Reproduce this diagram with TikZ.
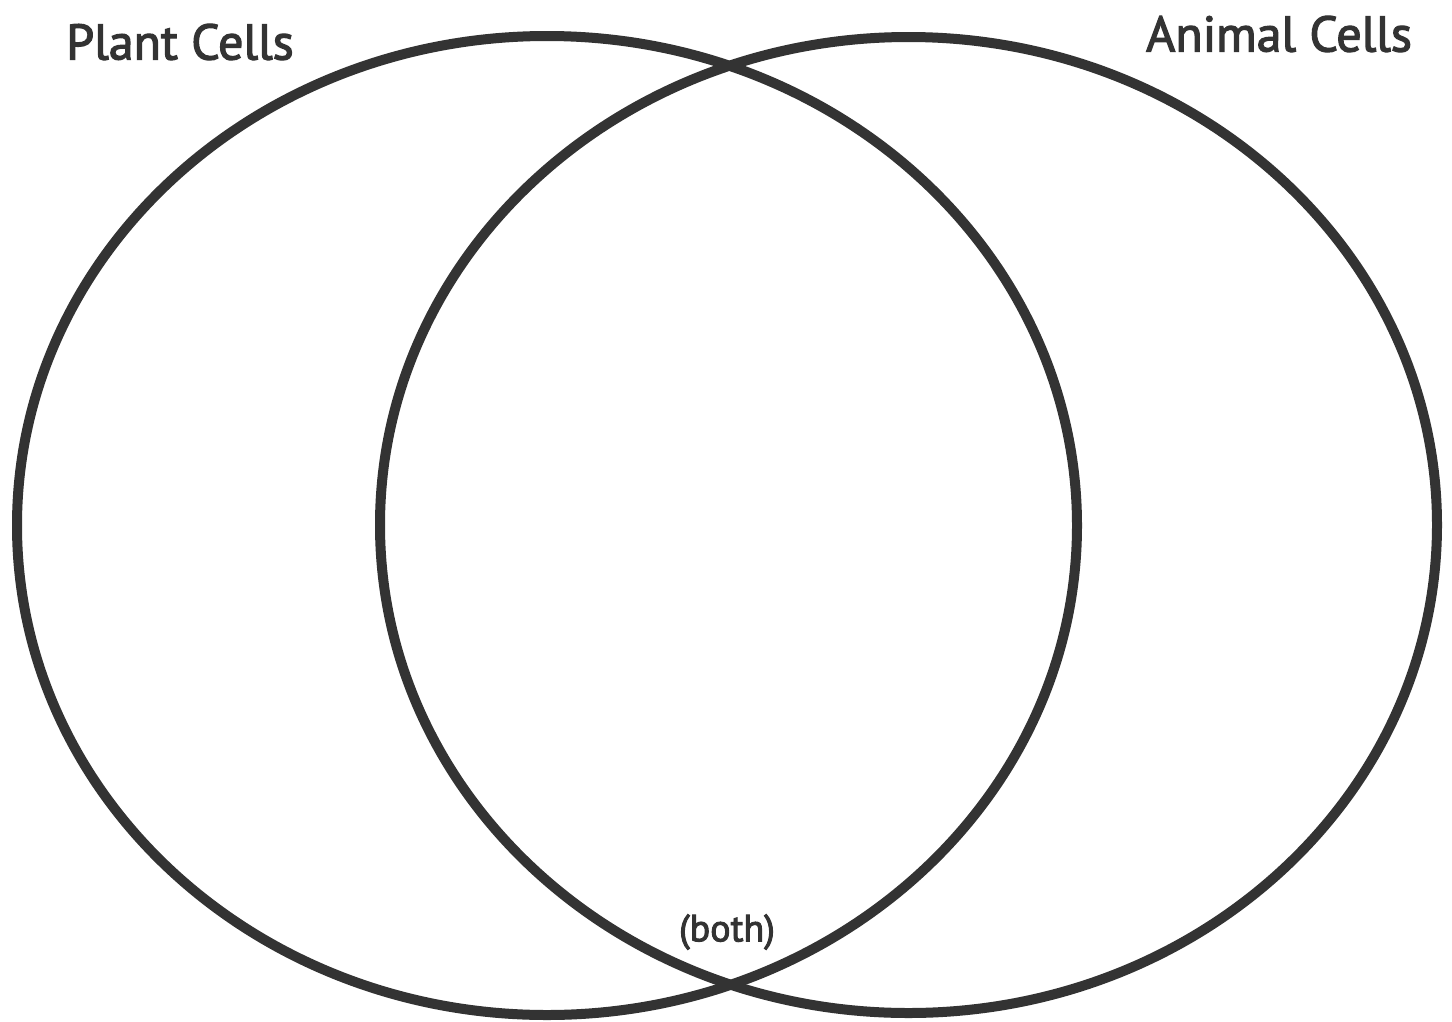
\documentclass[tikz,border=0pt]{standalone}
\usepackage{fontspec}
\setmainfont{PT Sans}
\newfontfamily\labelfont[FakeBold=2.5]{PT Sans}
\usetikzlibrary{shapes.geometric}
\definecolor{ink}{HTML}{333333}
\begin{document}
\begin{tikzpicture}[x=1pt,y=-1pt,
  setring/.style={draw=ink, line width=10pt, ellipse, inner sep=0pt, outer sep=0pt},
  title/.style={text=ink, font=\labelfont\fontsize{50}{60}\selectfont, inner sep=0pt},
  small/.style={text=ink, font=\labelfont\fontsize{38}{46}\selectfont, inner sep=0pt}]
\useasboundingbox[fill=white] (0,0) rectangle (1452,1021);
\node[setring, minimum width=1060pt, minimum height=979pt] (plant) at (547,525.5) {};
\node[setring, minimum width=1057pt, minimum height=976pt] (animal) at (908.5,525) {};
\node[title] (plantlabel) at (180,42) {Plant Cells};
\node[title] (animallabel) at (1279,34) {Animal Cells};
\node[small] (both) at (727,932) {(both)};
\end{tikzpicture}
\end{document}
